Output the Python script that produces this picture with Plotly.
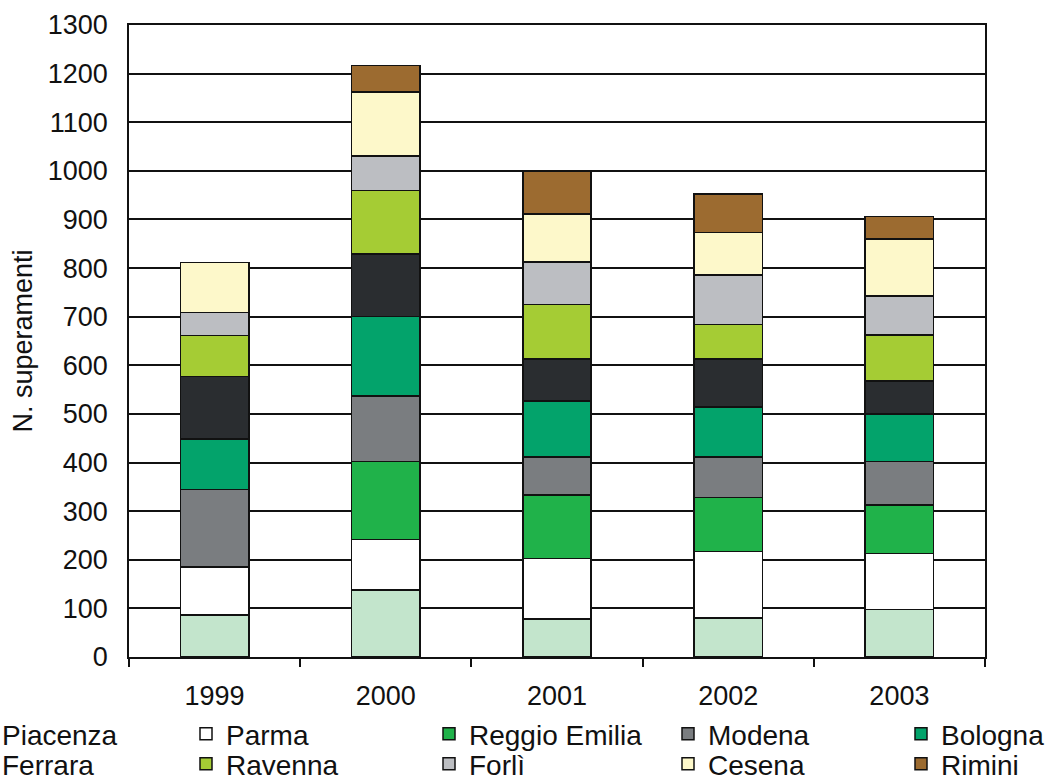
import plotly.graph_objects as go

years = ["1999", "2000", "2001", "2002", "2003"]

piacenza = [86, 138, 78, 80, 98]
parma = [99, 104, 125, 137, 115]
reggio_emilia = [None, 160, 130, 111, 100]
modena = [160, 135, 78, 83, 89]
bologna = [103, 163, 116, 103, 98]
ferrara = [129, 129, 86, 99, 68]
ravenna = [84, 131, 112, 71, 94]
forli = [48, 71, 87, 102, 81]
cesena = [102, 131, 99, 87, 117]
rimini = [None, 55, 89, 79, 46]

names = ["Piacenza", "Parma", "Reggio Emilia", "Modena", "Bologna",
         "Ferrara", "Ravenna", "Forlì", "Cesena", "Rimini"]
series = [piacenza, parma, reggio_emilia, modena, bologna,
          ferrara, ravenna, forli, cesena, rimini]
colors = ["#C3E5CC", "#FFFFFF", "#20B24A", "#7A7D80", "#03A36B",
          "#2A2D30", "#A5CC34", "#BCBEC2", "#FDF8CA", "#9C6B30"]

FONT = "Liberation Sans, Arial, sans-serif"

# legend grid: column text starts (px) and row centres (px)
plot_l, plot_r, plot_t, plot_b = 129, 985, 25, 657
W, H = 1050, 782
col_text_px = [2, 226, 469, 708, 941]
row_px = [734, 764]

fig = go.Figure()
legends = {}
for i, (nm, vals, col) in enumerate(zip(names, series, colors)):
    lg = "legend" if i == 0 else f"legend{i+1}"
    fig.add_trace(go.Bar(
        x=years, y=vals, name=nm, legend=lg,
        marker=dict(color=col, line=dict(color="#111111", width=1.5)),
    ))
    r, c = divmod(i, 5)
    left_px = col_text_px[c] - 40
    legends[lg] = dict(
        x=(left_px - plot_l) / (plot_r - plot_l),
        y=(plot_b - row_px[r]) / (plot_b - plot_t),
        xanchor="left", yanchor="middle",
        bgcolor="rgba(0,0,0,0)",
        font=dict(family=FONT, size=28, color="#111111"),
        itemwidth=30,
    )

fig.update_layout(
    width=W, height=H,
    barmode="stack", bargap=0.6,
    plot_bgcolor="white", paper_bgcolor="white",
    margin=dict(l=plot_l, r=W - plot_r, t=plot_t, b=H - plot_b, autoexpand=False),
    font=dict(family=FONT, size=27, color="#111111"),
    showlegend=True,
    **legends,
)

fig.update_xaxes(
    type="category",
    showline=True, linecolor="#111111", linewidth=1.5, mirror=True,
    ticks="outside", tickson="boundaries", ticklen=8, tickwidth=1.5, tickcolor="#111111",
    showgrid=False,
    tickfont=dict(family=FONT, size=27, color="#111111"),
    ticklabelstandoff=14,
)
fig.update_yaxes(
    range=[0, 1300], dtick=100, tick0=0,
    showline=True, linecolor="#111111", linewidth=1.5, mirror=True,
    showgrid=True, gridcolor="#111111", gridwidth=1.5,
    ticks="", zeroline=False,
    tickfont=dict(family=FONT, size=27, color="#111111"),
    ticklabelstandoff=14,
    title=dict(text="N. superamenti", font=dict(family=FONT, size=27, color="#111111"), standoff=7),
)

fig.write_html("out.html", config={"displayModeBar": False},
               post_script="document.body.style.margin='0';")
